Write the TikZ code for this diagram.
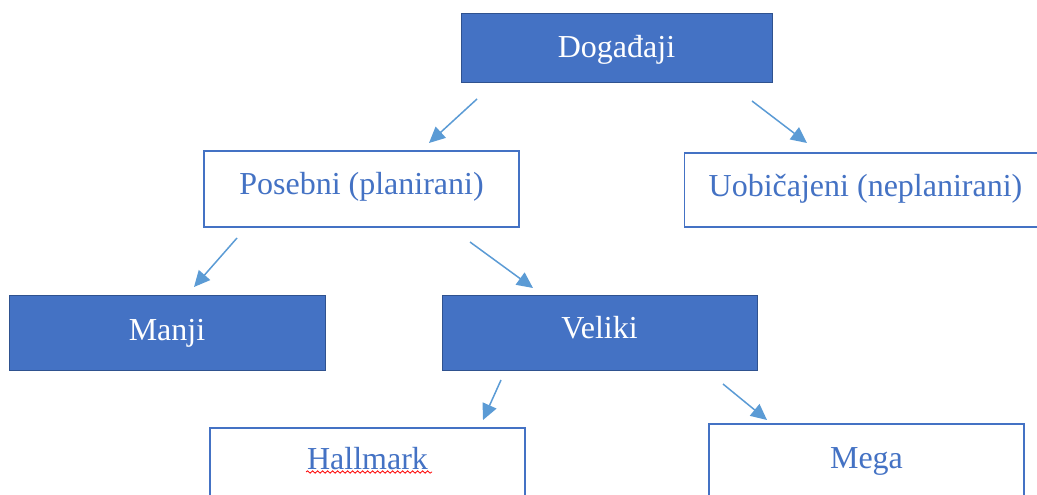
\documentclass[tikz,border=0pt]{standalone}
\usepackage{fontspec}
\setmainfont{Liberation Serif}
\usetikzlibrary{arrows.meta,decorations.pathmorphing}
\definecolor{boxblue}{HTML}{4472C4}
\definecolor{edgeblue}{HTML}{2F528F}
\definecolor{arrowblue}{HTML}{5B9BD5}
\begin{document}
\begin{tikzpicture}[x=1pt,y=-1pt,
  basebox/.style={inner sep=0pt, minimum width=315pt, minimum height=75pt, font=\fontsize{32}{38}\selectfont},
  filledbox/.style={basebox, draw=edgeblue, line width=1pt, fill=boxblue, text=white},
  plainbox/.style={basebox, draw=boxblue, line width=1.5pt, fill=white, text=boxblue},
  conn/.style={draw=arrowblue, line width=1.5pt, -{Triangle[length=16pt,width=15pt]}}]
\useasboundingbox (0,0) rectangle (1037,495);
\clip (0,0) rectangle (1037,495);
\node[filledbox, minimum width=311pt, minimum height=69pt, text height=24pt, text depth=6pt] (dog) at (616.5,48.5) {Događaji};
\node[plainbox, minimum height=76pt, text height=20.5pt, text depth=9.5pt] (pos) at (361.5,189) {Posebni (planirani)};
\node[plainbox, minimum width=362pt, minimum height=74pt, text height=21.3pt, text depth=8.7pt] (uob) at (865.5,190) {Uobičajeni (neplanirani)};
\node[filledbox, minimum width=316pt, text height=23.3pt, text depth=6.7pt] (manji) at (167,332.5) {Manji};
\node[filledbox, text height=21.2pt, text depth=8.8pt] (veliki) at (599.5,332.5) {Veliki};
\node[plainbox, minimum height=76pt, text height=18.8pt, text depth=11.2pt] (hall) at (367.5,466) {Hallmark};
\node[plainbox, minimum height=76pt, text height=21.5pt, text depth=8.5pt] (mega) at (866.5,462) {Mega};
\coordinate (a1s) at (477,99);  \coordinate (a1e) at (429,143);
\coordinate (a2s) at (752,101); \coordinate (a2e) at (807,143);
\coordinate (a3s) at (237,238); \coordinate (a3e) at (194,287);
\coordinate (a4s) at (470,242); \coordinate (a4e) at (533,288);
\coordinate (a5s) at (501,380); \coordinate (a5e) at (483,420);
\coordinate (a6s) at (723,384); \coordinate (a6e) at (767,420);
\draw[conn] (a1s) -- (a1e);
\draw[conn] (a2s) -- (a2e);
\draw[conn] (a3s) -- (a3e);
\draw[conn] (a4s) -- (a4e);
\draw[conn] (a5s) -- (a5e);
\draw[conn] (a6s) -- (a6e);
\coordinate (sq1) at (306,472); \coordinate (sq2) at (432,472);
\draw[red, line width=0.8pt, decorate, decoration={snake, segment length=5pt, amplitude=1.2pt}] (sq1) -- (sq2);
\end{tikzpicture}
\end{document}
